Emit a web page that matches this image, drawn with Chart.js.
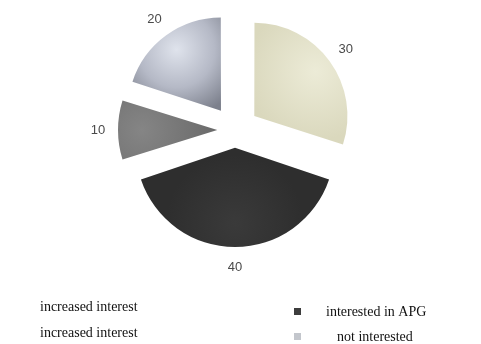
<!DOCTYPE html>
<html>
<head>
<meta charset="utf-8">
<script src="https://cdn.jsdelivr.net/npm/chart.js@4.4.1/dist/chart.umd.min.js"></script>
<style>
  html, body { margin: 0; padding: 0; background: #fff; }
  #wrap { width: 481px; height: 344px; position: relative; }
</style>
</head>
<body>
<div id="wrap"><canvas id="pie"></canvas></div>
<script>
// slice order: clockwise from 12 o'clock
const categories = ['increased interest', 'interested in APG', 'increased interest', 'not interested'];
const values = [30, 40, 10, 20];
const sliceColors = ['#e3e1c7', '#363636', '#7b7b7b', '#b9bdc8'];
const legendMarkers = [null, '#3d3d3d', null, '#c3c6cc'];

const RADIUS = 92;   // pie radius in px
const EXPLODE = 25;  // how far each slice is pulled out, px

function sliceAngle(i) {
  const total = values.reduce((s, v) => s + v, 0);
  return (values[i] / total) * Math.PI * 2;
}

// Chart.js moves an arc by offset/4 * (2 - sin(circumference)), so invert that
function sliceOffset(context) {
  const circ = sliceAngle(context.dataIndex);
  const fix = 1 - Math.sin(Math.min(Math.PI, circ));
  return (EXPLODE * 4) / (1 + fix);
}

function sliceFill(context) {
  const chart = context.chart;
  const i = context.dataIndex;
  if (!chart.chartArea) return sliceColors[i];
  const a = chart.chartArea;
  const cx = (a.left + a.right) / 2;
  const cy = (a.top + a.bottom) / 2;
  let before = 0;
  for (let k = 0; k < i; k++) before += sliceAngle(k);
  const mid = -Math.PI / 2 + before + sliceAngle(i) / 2;
  const d = EXPLODE + RADIUS * 0.55;
  const px = cx + Math.cos(mid) * d;
  const py = cy + Math.sin(mid) * d;
  const g = chart.ctx.createRadialGradient(px, py, 0, px, py, RADIUS * 0.75);
  if (i === 0) {
    g.addColorStop(0, '#ecebd7');
    g.addColorStop(1, '#dad8bd');
  } else if (i === 1) {
    g.addColorStop(0, '#3a3a3a');
    g.addColorStop(1, '#2e2e2e');
  } else if (i === 2) {
    g.addColorStop(0, '#858585');
    g.addColorStop(1, '#6c6c6c');
  } else {
    g.addColorStop(0, '#dfe3ec');
    g.addColorStop(0.55, '#b5b9c6');
    g.addColorStop(1, '#7c808c');
  }
  return g;
}

// value labels outside the exploded slices
const valueLabels = {
  id: 'valueLabels',
  afterDatasetsDraw(chart) {
    const ctx = chart.ctx;
    const arcs = chart.getDatasetMeta(0).data;
    ctx.save();
    ctx.font = '13px "Liberation Sans", Arial, sans-serif';
    ctx.fillStyle = '#4a4a4a';
    ctx.textAlign = 'center';
    ctx.textBaseline = 'middle';
    arcs.forEach((arc, i) => {
      const mid = (arc.startAngle + arc.endAngle) / 2;
      const R = arc.outerRadius + EXPLODE + 20;
      ctx.fillText(String(values[i]), arc.x + Math.cos(mid) * R, arc.y + Math.sin(mid) * R);
    });
    ctx.restore();
  }
};

// two-column legend under the pie
const bottomLegend = {
  id: 'bottomLegend',
  afterDraw(chart) {
    const ctx = chart.ctx;
    const slots = [
      { x: 40, y: 307, mx: null },   // increased interest
      { x: 326, y: 312, mx: 294 },   // interested in APG
      { x: 40, y: 333, mx: null },   // increased interest
      { x: 337, y: 337, mx: 294 }    // not interested
    ];
    ctx.save();
    ctx.font = '14px "Liberation Serif", "Times New Roman", serif';
    ctx.textBaseline = 'middle';
    categories.forEach((label, i) => {
      const s = slots[i];
      if (legendMarkers[i]) {
        ctx.fillStyle = legendMarkers[i];
        ctx.fillRect(s.mx, s.y - 4, 7, 7);
      }
      ctx.fillStyle = '#111';
      ctx.fillText(label, s.x, s.y);
    });
    ctx.restore();
  }
};

new Chart(document.getElementById('pie'), {
  type: 'pie',
  data: {
    labels: categories,
    datasets: [{
      data: values,
      backgroundColor: sliceFill,
      borderWidth: 0,
      offset: sliceOffset,
      hoverOffset: 0
    }]
  },
  options: {
    responsive: true,
    maintainAspectRatio: false,
    animation: false,
    radius: RADIUS,
    layout: { padding: { top: 0, bottom: 84, left: 0, right: 11 } },
    plugins: {
      legend: { display: false },
      tooltip: { enabled: false }
    }
  },
  plugins: [valueLabels, bottomLegend]
});
</script>
</body>
</html>
